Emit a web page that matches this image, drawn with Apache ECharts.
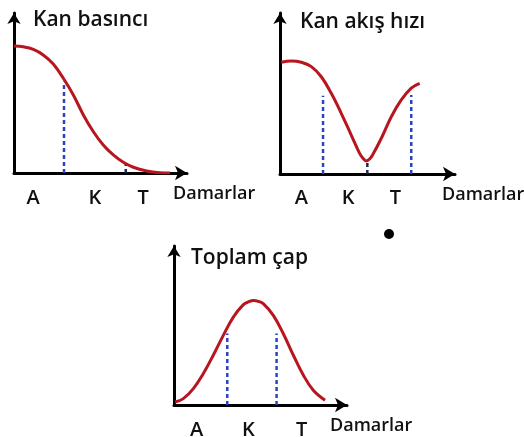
<!DOCTYPE html>
<html>
<head>
<meta charset="utf-8">
<script src="https://cdn.jsdelivr.net/npm/echarts@6/dist/echarts.min.js"></script>
<style>
    html, body { margin: 0; padding: 0; background: #fff; }
    #main { width: 524px; height: 437px; }
</style>
</head>
<body>
<div id="main"></div>
<script>
// x labels on the Damarlar axis
var xLabels = ['A', 'K', 'T'];

// Kan basıncı
var basincX = [0, 0.54, 1.12, 1.69, 2.27, 2.85, 3.43, 4.01, 4.59, 5.16, 5.74, 6.32, 6.90, 7.67, 8.44, 9.02];
var basincY = [7.94, 7.89, 7.73, 7.38, 6.81, 5.92, 4.88, 3.63, 2.58, 1.75, 1.13, 0.67, 0.36, 0.13, 0.02, 0];
var basincLabelX = [1.10, 4.68, 7.46];
var basincDashX = [2.89, 6.46];
var basincDashTop = [5.7, 0.56];

// Kan akış hızı
var hizX = [0.07, 0.65, 1.22, 1.79, 2.36, 2.93, 3.50, 4.07, 4.55, 4.74, 4.93, 5.12, 5.31, 5.79, 6.36, 6.93, 7.50, 7.98];
var hizY = [6.94, 7.02, 6.94, 6.67, 6.04, 5.01, 3.77, 2.42, 1.28, 0.98, 0.81, 0.93, 1.22, 2.22, 3.56, 4.60, 5.33, 5.63];
var hizLabelX = [1.22, 3.89, 6.59];
var hizDashX = [2.46, 7.50, 4.99];
var hizDashTop = [4.86, 4.9, 0.7];

// Toplam çap
var capX = [0.06, 0.54, 1.12, 1.69, 2.27, 2.85, 3.43, 4.01, 4.30, 4.59, 4.88, 5.16, 5.74, 6.32, 6.90, 7.48, 8.05, 8.73];
var capY = [0.19, 0.40, 1.03, 1.97, 3.13, 4.38, 5.53, 6.31, 6.48, 6.58, 6.52, 6.37, 5.64, 4.48, 3.13, 1.87, 0.93, 0.30];
var capLabelX = [1.31, 4.30, 7.38];
var capDashX = [3.08, 5.93];
var capDashTop = [4.49, 4.49];

var panels = [
    { title: 'Kan basıncı', xs: basincX, ys: basincY, labelX: basincLabelX, dashX: basincDashX, dashTop: basincDashTop,
      grid: { left: 14, top: 13, width: 173, height: 160 }, titlePos: { left: 33, top: 10 }, nameGap: -14, labelMargin: 15 },
    { title: 'Kan akış hızı', xs: hizX, ys: hizY, labelX: hizLabelX, dashX: hizDashX, dashTop: hizDashTop,
      grid: { left: 280, top: 13, width: 175, height: 161 }, titlePos: { left: 300, top: 12 }, nameGap: -13, labelMargin: 14 },
    { title: 'Toplam çap', xs: capX, ys: capY, labelX: capLabelX, dashX: capDashX, dashTop: capDashTop,
      grid: { left: 174, top: 246, width: 173, height: 159 }, titlePos: { left: 191, top: 248 }, nameGap: -17, labelMargin: 15 }
];

var font = '"Open Sans", "DejaVu Sans", sans-serif';
var option = { animation: false, backgroundColor: '#fff', title: [], grid: [], xAxis: [], yAxis: [], series: [] };

panels.forEach(function(p, i) {
    option.title.push({
        text: p.title, left: p.titlePos.left, top: p.titlePos.top, padding: 0,
        textStyle: { fontFamily: font, fontSize: 21, fontWeight: 600, color: '#111' }
    });
    var g = p.grid;
    g.outerBoundsMode = 'none';
    g.containLabel = false;
    option.grid.push(g);
    option.xAxis.push({
        type: 'value', gridIndex: i, min: 0, max: 10,
        name: 'Damarlar', nameLocation: 'end', nameGap: p.nameGap,
        nameTextStyle: { fontFamily: font, fontSize: 18, fontWeight: 600, color: '#111',
            align: 'left', verticalAlign: 'top', padding: [12, 0, 0, 0] },
        axisLine: { show: true, symbol: ['none', 'arrow'], symbolSize: [11, 12],
            lineStyle: { color: '#000', width: 3 } },
        axisTick: { show: false },
        splitLine: { show: false },
        axisLabel: {
            customValues: p.labelX, margin: p.labelMargin,
            fontFamily: font, fontSize: 20, fontWeight: 600, color: '#111',
            formatter: function(v) {
                var k = p.labelX.indexOf(v);
                return k >= 0 ? xLabels[k] : '';
            }
        }
    });
    option.yAxis.push({
        type: 'value', gridIndex: i, min: 0, max: 10,
        axisLine: { show: true, symbol: ['none', 'arrow'], symbolSize: [10, 11],
            lineStyle: { color: '#000', width: 3 } },
        axisTick: { show: false }, axisLabel: { show: false }, splitLine: { show: false }
    });
    // dashed guide lines
    p.dashX.forEach(function(x, j) {
        option.series.push({
            type: 'line', xAxisIndex: i, yAxisIndex: i, symbol: 'none', silent: true,
            data: [[x, 0], [x, p.dashTop[j]]],
            lineStyle: { color: p.dashTop[j] < 1 ? '#1d2550' : '#2a44c0', width: 2.5, type: [4, 3] },
            z: 1
        });
    });
    option.series.push({
        type: 'line', xAxisIndex: i, yAxisIndex: i, symbol: 'none', silent: true,
        smooth: 0.4,
        data: p.xs.map(function(x, k) { return [x, p.ys[k]]; }),
        lineStyle: { color: '#b8161f', width: 3 },
        z: 2
    });
});

// the stray dot between the panels
option.graphic = [{ type: 'circle', shape: { cx: 389, cy: 234, r: 5 }, style: { fill: '#000' } }];

var myChart = echarts.init(document.getElementById('main'));
myChart.setOption(option);
</script>
</body>
</html>
